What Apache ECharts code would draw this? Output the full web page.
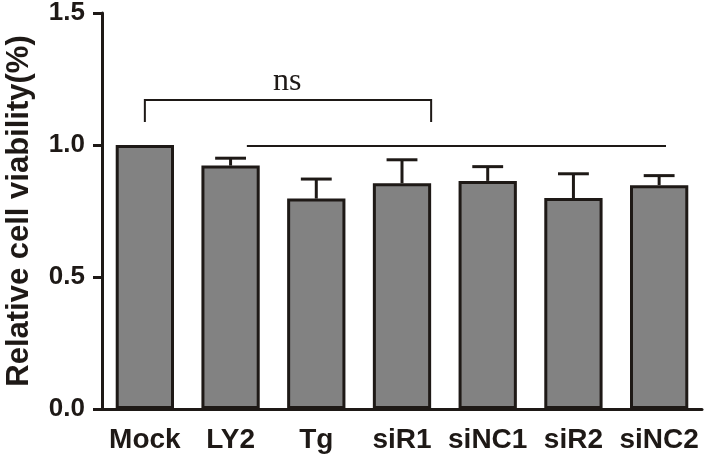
<!DOCTYPE html>
<html>
<head>
<meta charset="utf-8">
<script src="https://cdn.jsdelivr.net/npm/echarts@6/dist/echarts.min.js"></script>
<style>
  html, body { margin: 0; padding: 0; background: #fff; }
  #chart { width: 714px; height: 458px; }
</style>
</head>
<body>
<div id="chart"></div>
<script>
// data
var categories = ['Mock', 'LY2', 'Tg', 'siR1', 'siNC1', 'siR2', 'siNC2'];
var viability = [1.0, 0.922, 0.797, 0.855, 0.864, 0.799, 0.848];
var errUp = [0, 0.028, 0.074, 0.089, 0.054, 0.092, 0.036];
var yTicks = [0, 0.5, 1.0, 1.5];

// significance marks (category index can be fractional, value on y scale)
var bracketNs = { from: 0, to: 3.34, top: 1.17, leg: 1.087, label: 'ns', labelAt: 1.66, labelY: 1.24 };
var groupLine = { from: 1.19, to: 6.08, y: 0.996 };

var ink = '#1e1916';
var chart = echarts.init(document.getElementById('chart'));

function px(api, x, y) {
  var i = Math.floor(x);
  var p = api.coord([i, y]);
  var band = api.size([1, 0])[0];
  return [p[0] + (x - i) * band, p[1]];
}

var option = {
  animation: false,
  grid: { left: 102, right: 12, top: 13, bottom: 49, outerBoundsMode: 'none' },
  xAxis: {
    type: 'category',
    data: categories,
    axisLine: { lineStyle: { color: ink, width: 3 } },
    axisTick: { alignWithLabel: true, length: 9, lineStyle: { color: ink, width: 3 } },
    axisLabel: {
      margin: 17, color: ink, fontSize: 28, fontWeight: 'bold',
      fontFamily: 'Liberation Sans', interval: 0
    }
  },
  yAxis: {
    type: 'value',
    min: yTicks[0],
    max: yTicks[yTicks.length - 1],
    interval: 0.5,
    name: 'Relative cell viability(%)',
    nameLocation: 'middle',
    nameGap: 67,
    nameTextStyle: { color: ink, fontSize: 31, fontWeight: 'bold', fontFamily: 'Liberation Sans' },
    splitLine: { show: false },
    axisLine: { show: true, lineStyle: { color: ink, width: 3 } },
    axisTick: { show: true, length: 9, lineStyle: { color: ink, width: 3 } },
    axisLabel: {
      margin: 17, color: ink, fontSize: 26, fontWeight: 'bold',
      fontFamily: 'Liberation Sans',
      formatter: function (v) { return v.toFixed(1); }
    }
  },
  series: [
    {
      type: 'bar',
      data: viability,
      barWidth: '68%',
      itemStyle: { color: '#828282', borderColor: ink, borderWidth: 3 }
    },
    {
      type: 'custom',
      data: categories.map(function (c, i) { return [i, viability[i], errUp[i]]; }),
      z: 3,
      renderItem: function (params, api) {
        if (!api.value(2)) return null;
        var base = api.coord([api.value(0), api.value(1)]);
        var cap = api.coord([api.value(0), api.value(1) + api.value(2)]);
        var half = api.size([1, 0])[0] * 0.18;
        var st = { stroke: ink, lineWidth: 3 };
        return {
          type: 'group',
          children: [
            { type: 'line', shape: { x1: base[0], y1: base[1], x2: cap[0], y2: cap[1] }, style: st },
            { type: 'line', shape: { x1: cap[0] - half, y1: cap[1], x2: cap[0] + half, y2: cap[1] }, style: st }
          ]
        };
      }
    },
    {
      type: 'custom',
      data: [[0, 0]],
      z: 4,
      renderItem: function (params, api) {
        var st = { stroke: ink, lineWidth: 2, fill: null };
        var a = px(api, bracketNs.from, bracketNs.leg);
        var b = px(api, bracketNs.from, bracketNs.top);
        var c = px(api, bracketNs.to, bracketNs.top);
        var d = px(api, bracketNs.to, bracketNs.leg);
        var l1 = px(api, groupLine.from, groupLine.y);
        var l2 = px(api, groupLine.to, groupLine.y);
        var t = px(api, bracketNs.labelAt, bracketNs.labelY);
        return {
          type: 'group',
          children: [
            { type: 'polyline', shape: { points: [a, b, c, d] }, style: st },
            { type: 'line', shape: { x1: l1[0], y1: l1[1], x2: l2[0], y2: l2[1] }, style: st },
            {
              type: 'text',
              x: t[0], y: t[1],
              style: {
                text: bracketNs.label, fill: ink, fontSize: 32,
                fontFamily: 'Liberation Serif', align: 'center', verticalAlign: 'middle'
              }
            }
          ]
        };
      }
    }
  ]
};
chart.setOption(option);
</script>
</body>
</html>
